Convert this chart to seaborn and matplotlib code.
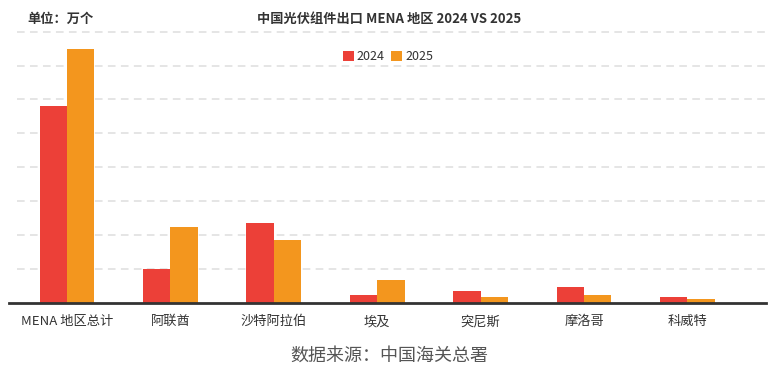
import matplotlib
matplotlib.use("Agg")
import matplotlib.pyplot as plt
import seaborn as sns
import pandas as pd

# Data (万个)
regions = ['MENA 地区总计', '阿联酋', '沙特阿拉伯', '埃及', '突尼斯', '摩洛哥', '科威特']
values_2024 = [1162, 200, 468, 46, 70, 94, 34]
values_2025 = [1500, 444, 372, 134, 34, 46, 22]
years = ['2024', '2025']

colors = {'2024': '#EC4038', '2025': '#F3961E'}

df = pd.DataFrame({
    'region': regions * 2,
    'year': ['2024'] * len(regions) + ['2025'] * len(regions),
    'value': values_2024 + values_2025,
})

sns.set_style("white")
plt.rcParams['font.family'] = ['Noto Sans CJK SC', 'DejaVu Sans']

fig = plt.figure(figsize=(7.79, 3.75), dpi=100)
ax = fig.add_axes([0.0116, 0.1928, 0.9718, 0.7227])

sns.barplot(data=df, x='region', y='value', hue='year', palette=colors,
            width=0.53, gap=0, saturation=1, linewidth=0, ax=ax, zorder=3)

ax.set_xlim(-0.56, 6.76)
ax.set_ylim(0, 1600)
ax.set_yticks([])
ax.tick_params(axis='x', length=0, pad=9, labelsize=9.5, labelcolor='#333333')
ax.set_xlabel('')
ax.set_ylabel('')

# dashed gridlines, starting a little right of the baseline
ax.hlines(range(200, 1601, 200), -0.48, 6.75, colors='#dedede', linewidth=1.1,
          linestyles=(0, (5, 3.5)), zorder=0, clip_on=False)

for side in ['top', 'right', 'left']:
    ax.spines[side].set_visible(False)
ax.spines['bottom'].set_color('#333333')
ax.spines['bottom'].set_linewidth(2)
ax.spines['bottom'].set_zorder(4)

# Legend
handles, labels = ax.get_legend_handles_labels()
ax.legend(handles, labels, loc='center', bbox_to_anchor=(388 / 779, 1 - 57 / 375),
          bbox_transform=fig.transFigure, ncol=2, frameon=False, fontsize=9,
          handlelength=0.9, handleheight=0.9, handletextpad=0.25, columnspacing=0.5,
          labelcolor='#333333')

# Titles and notes
fig.text(389 / 779, 1 - 19 / 375, '中国光伏组件出口 MENA 地区 2024 VS 2025',
         ha='center', va='center', fontsize=9.5, fontweight='bold', color='#333333')
fig.text(27 / 779, 1 - 19 / 375, '单位：万个', ha='left', va='center',
         fontsize=9.5, fontweight='bold', color='#333333')
fig.text(389 / 779, 1 - 356 / 375, '数据来源：中国海关总署', ha='center', va='center',
         fontsize=13, color='#555555')

plt.savefig('out.png', dpi=100)
